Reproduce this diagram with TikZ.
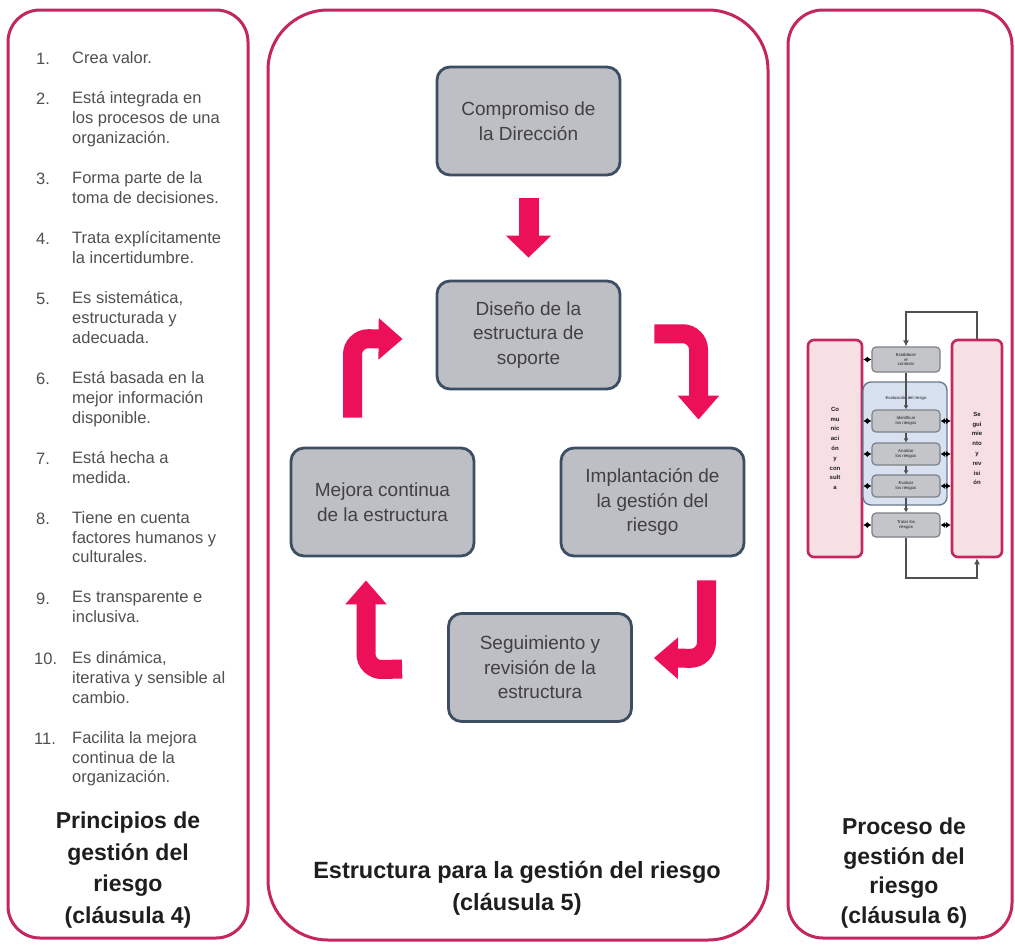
\documentclass[tikz,border=0pt]{standalone}
\usepackage{fontspec}
\setmainfont{Liberation Sans}
\usetikzlibrary{arrows.meta,calc}
\definecolor{panel}{RGB}{196,38,96}
\definecolor{parrow}{RGB}{236,16,88}
\definecolor{bfill}{RGB}{190,191,196}
\definecolor{bdraw}{RGB}{62,78,98}
\definecolor{ltext}{RGB}{80,80,80}
\definecolor{btext}{RGB}{65,65,65}
\definecolor{ttext}{RGB}{30,30,30}
\definecolor{tallfill}{RGB}{246,224,228}
\definecolor{minifill}{RGB}{196,197,200}
\definecolor{minidraw}{RGB}{125,128,135}
\definecolor{grpfill}{RGB}{215,225,240}
\definecolor{grpdraw}{RGB}{105,120,145}
\definecolor{loopc}{RGB}{80,80,80}
\tikzset{
  panelbox/.style={draw=panel, line width=3pt, fill=white, inner sep=0pt},
  mbox/.style={draw=bdraw, fill=bfill, line width=2.8pt, rounded corners=13pt,
    minimum width=183pt, minimum height=108pt, align=center, text=btext,
    font=\fontsize{19}{24.5}\selectfont, inner sep=0pt},
  bentarrow/.style={draw=parrow, line width=19pt, rounded corners=16pt,
    -{Triangle[width=40pt,length=24pt]}},
  downarrow/.style={draw=parrow, line width=20pt,
    -{Triangle[width=44pt,length=22pt]}},
  itemtext/.style={anchor=north west, align=left, inner sep=0pt, text=ltext,
    font=\fontsize{16.5}{19.8}\selectfont},
  itemnum/.style={anchor=north west, inner sep=0pt, text=ltext,
    font=\fontsize{16.5}{19.8}\selectfont, yshift=-1.5pt},
  ptitle/.style={align=center, inner sep=0pt, text=ttext,
    font=\bfseries\fontsize{23}{31.5}\selectfont},
  tallbox/.style={draw=panel, fill=tallfill, line width=2.6pt, rounded corners=6pt,
    inner sep=0pt, align=center, font=\bfseries\fontsize{6}{9.8}\selectfont, text=ttext},
  minibox/.style={draw=minidraw, fill=minifill, line width=1.2pt, rounded corners=4pt,
    minimum width=68pt, inner sep=0pt, align=center, text=ttext,
    font=\fontsize{4.3}{4.9}\selectfont},
  grpbox/.style={draw=grpdraw, fill=grpfill, line width=1.4pt, rounded corners=8pt,
    minimum width=84pt, minimum height=123pt, inner sep=0pt},
  looparrow/.style={draw=loopc, line width=1.2pt, -{Latex[length=6pt,width=6pt]}},
  vline/.style={draw=loopc, line width=1.2pt, -{Latex[length=4pt,width=5pt]}},
  dbl/.style={draw=black, line width=1.6pt,
    {Latex[length=4.5pt,width=6pt]}-{Latex[length=4.5pt,width=6pt]}}
}
\begin{document}
\begin{tikzpicture}[x=1pt,y=-1pt]
\useasboundingbox (0,0) rectangle (1015,945);
\fill[white] (0,0) rectangle (1015,945);

% ---------- panels ----------
\node[panelbox, rounded corners=32pt, minimum width=240pt, minimum height=928pt] (pleft) at (128,474) {};
\node[panelbox, rounded corners=60pt, minimum width=500pt, minimum height=930pt] (pmid) at (518,475) {};
\node[panelbox, rounded corners=35pt, minimum width=224pt, minimum height=928pt] (pright) at (900,474) {};

% ---------- left list ----------
\node[itemnum] (n1) at (36,51.2) {1.};
\node[itemtext] (t1) at (72,51.2) {Crea valor.};
\node[itemnum] (n2) at (36,91.2) {2.};
\node[itemtext] (t2) at (72,91.2) {Está integrada en\\los procesos de una\\organización.};
\node[itemnum] (n3) at (36,171.2) {3.};
\node[itemtext] (t3) at (72,171.2) {Forma parte de la\\toma de decisiones.};
\node[itemnum] (n4) at (36,231.2) {4.};
\node[itemtext] (t4) at (72,231.2) {Trata explícitamente\\la incertidumbre.};
\node[itemnum] (n5) at (36,291.2) {5.};
\node[itemtext] (t5) at (72,291.2) {Es sistemática,\\estructurada y\\adecuada.};
\node[itemnum] (n6) at (36,371.2) {6.};
\node[itemtext] (t6) at (72,371.2) {Está basada en la\\mejor información\\disponible.};
\node[itemnum] (n7) at (36,451.2) {7.};
\node[itemtext] (t7) at (72,451.2) {Está hecha a\\medida.};
\node[itemnum] (n8) at (36,511.2) {8.};
\node[itemtext] (t8) at (72,511.2) {Tiene en cuenta\\factores humanos y\\culturales.};
\node[itemnum] (n9) at (36,591.2) {9.};
\node[itemtext] (t9) at (72,591.2) {Es transparente e\\inclusiva.};
\node[itemnum] (n10) at (34,651.2) {10.};
\node[itemtext] (t10) at (72,651.2) {Es dinámica,\\iterativa y sensible al\\cambio.};
\node[itemnum] (n11) at (34,731.2) {11.};
\node[itemtext] (t11) at (72,731.2) {Facilita la mejora\\continua de la\\organización.};

\node[ptitle] (tleft) at (128,870) {Principios de\\gestión del\\riesgo\\(cláusula 4)};

% ---------- middle ----------
\node[mbox] (comp) at (528.5,121) {Compromiso de\\la Dirección};
\node[mbox] (dise) at (528.5,335) {Diseño de la\\estructura de\\soporte};
\node[mbox] (mejo) at (382.5,502) {Mejora continua\\de la estructura};
\node[mbox] (impl) at (652.5,502) {Implantación de\\la gestión del\\riesgo};
\node[mbox] (segu) at (540,667.5) {Seguimiento y\\revisión de la\\estructura};

\draw[downarrow] ([yshift=-22pt]comp.south) -- ([yshift=22pt]dise.north);

\coordinate (a1s) at ($(dise.east)+(33,-1)$);
\coordinate (a1c) at ($(impl.north)+(46,-113)$);
\coordinate (a1e) at ($(impl.north)+(46,-27)$);
\draw[bentarrow] (a1s) -- (a1c) -- (a1e);

\coordinate (a2s) at ($(impl.south)+(54,23)$);
\coordinate (a2c) at ($(impl.south)+(54,101)$);
\coordinate (a2e) at ($(segu.east)+(21,-9.5)$);
\draw[bentarrow] (a2s) -- (a2c) -- (a2e);

\coordinate (a3s) at ($(segu.west)+(-45,1.5)$);
\coordinate (a3c) at ($(mejo.south)+(-16.5,112.5)$);
\coordinate (a3e) at ($(mejo.south)+(-16.5,23)$);
\draw[bentarrow] (a3s) -- (a3c) -- (a3e);

\coordinate (a4s) at ($(mejo.north)+(-30,-29)$);
\coordinate (a4c) at ($(mejo.north)+(-30,-108)$);
\coordinate (a4e) at ($(dise.west)+(-33,4)$);
\draw[bentarrow] (a4s) -- (a4c) -- (a4e);

\node[ptitle, font=\bfseries\fontsize{23.5}{32}\selectfont] (tmid) at (517,888) {Estructura para la gestión del riesgo\\(cláusula 5)};

% ---------- right: mini process diagram ----------
\node[tallbox, minimum width=54pt, minimum height=217pt] (comm) at (835,448.5) {Co\\mu\\nic\\aci\\ón\\y\\con\\sult\\a};
\node[tallbox, minimum width=50pt, minimum height=217pt] (segr) at (977,448.5) {Se\\gui\\mie\\nto\\y\\rev\\isi\\ón};
\node[grpbox] (grp) at (905,443.5) {};
\node[inner sep=0pt, text=ttext, font=\fontsize{4.3}{4.9}\selectfont] (grplab) at (906,398) {Evaluación del riesgo};

\coordinate (tl1) at (906,312);
\coordinate (tr1) at (977,312);
\coordinate (bl1) at (906,578);
\coordinate (br1) at (977,578);

\node[minibox, minimum height=25pt] (est) at (906,359.5) {Establecer\\el\\contexto};
\node[minibox, minimum height=22pt] (ide) at (906,421) {Identificar\\los riesgos};
\node[minibox, minimum height=22pt] (ana) at (906,454) {Analizar\\los riesgos};
\node[minibox, minimum height=22pt] (eva) at (906,486) {Evaluar\\los riesgos};
\node[minibox, minimum height=24pt] (tra) at (906,525) {Tratar los\\riesgos};

\draw[looparrow] (segr.north) -- (tr1) -- (tl1) -- (est.north);
\draw[looparrow] (tra.south) -- (bl1) -- (br1) -- (segr.south);

\draw[vline] (est.south) -- (ide.north);
\draw[vline] (ide.south) -- (ana.north);
\draw[vline] (ana.south) -- (eva.north);
\draw[vline] (eva.south) -- (tra.north);

\draw[dbl] (comm.east |- est.west) -- (est.west);
\draw[dbl] (comm.east |- ide.west) -- (ide.west);
\draw[dbl] (comm.east |- ana.west) -- (ana.west);
\draw[dbl] (comm.east |- eva.west) -- (eva.west);
\draw[dbl] (comm.east |- tra.west) -- (tra.west);
\draw[dbl] (ide.east) -- (segr.west |- ide.east);
\draw[dbl] (ana.east) -- (segr.west |- ana.east);
\draw[dbl] (eva.east) -- (segr.west |- eva.east);
\draw[dbl] (tra.east) -- (segr.west |- tra.east);

\node[ptitle, font=\bfseries\fontsize{23}{29.5}\selectfont] (tright) at (904,873) {Proceso de\\gestión del\\riesgo\\(cláusula 6)};
\end{tikzpicture}
\end{document}
